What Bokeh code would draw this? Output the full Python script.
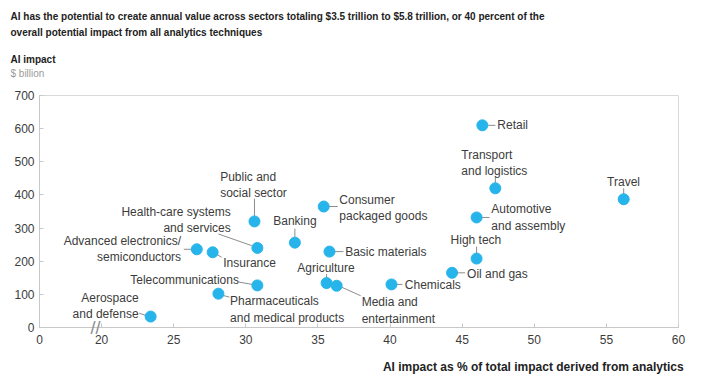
import numpy as np
from bokeh.plotting import figure
from bokeh.models import (ColumnDataSource, FixedTicker, Range1d, Title,
                          LinearAxis)
from bokeh.core.properties import value
from bokeh.embed import file_html
from bokeh.resources import INLINE

# ---------------- data ----------------
sectors = [
    "Retail", "Transport\nand logistics", "Travel", "Automotive\nand assembly",
    "High tech", "Oil and gas", "Chemicals", "Consumer\npackaged goods",
    "Banking", "Basic materials", "Agriculture", "Media and\nentertainment",
    "Public and\nsocial sector", "Health-care systems\nand services",
    "Advanced electronics/\nsemiconductors", "Insurance", "Telecommunications",
    "Pharmaceuticals\nand medical products", "Aerospace\nand defense",
]
ai_share_pct = [46.4, 47.3, 56.2, 46.0, 46.0, 44.3, 40.1, 35.4, 33.4, 35.8,
                35.6, 36.3, 30.6, 30.8, 26.6, 27.7, 30.8, 28.1, 23.4]
ai_impact_bn = [610, 420, 387, 332, 208, 165, 130, 365, 256, 229,
                134, 126, 320, 240, 236, 227, 127, 102, 33]

x_ticks = [20, 25, 30, 35, 40, 45, 50, 55, 60]
y_ticks = [0, 100, 200, 300, 400, 500, 600, 700]

title_lines = [
    "AI has the potential to create annual value across sectors totaling $3.5 trillion to $5.8 trillion, or 40 percent of the",
    "overall potential impact from all analytics techniques",
]
y_title = "AI impact"
y_unit = "$ billion"
x_title = "AI impact as % of total impact derived from analytics"

# ---------------- layout (pixel offsets of labels / leaders) ----------------
# (dx, dy, align, leader x0, y0, x1, y1) in screen pixels relative to each point
layout = [
    (15, 0, "left", 5, 0, 13, 0),
    (-34, -25.5, "left", 0, -5, 0, -12),
    (-16.6, -17.7, "left", 0, -5, 0, -11),
    (14.7, 0, "left", 5, 0, 13, 0),
    (-26, -19, "left", 0, -5, 0, -12),
    (15, 1, "left", 5, 0, 13, 0),
    (13.3, 1, "left", 5, 0, 11, 0),
    (15.6, 1.5, "left", 5, 0, 14, 0),
    (-21.6, -21.6, "left", 0, -5, 0, -14),
    (15.7, 0.7, "left", 5, 0, 14, 0),
    (-29.3, -15, "left", 0, -5, 0, -9),
    (25, 24.7, "left", 4, 1, 24, 10),
    (-34.3, -36.3, "left", 0, -4.5, 0, -22.7),
    (-26.6, -27.8, "right", -39, -14, -5.6, -2.3),
    (-15.7, -0.4, "right", -13, 0, -5, 0),
    (10.6, 11, "left", 4, 2, 9, 5),
    (-18.4, -5, "right", -18.4, -3.3, -5, -1),
    (11.7, 15.9, "left", 4.4, 1.7, 11, 3.4),
    (-12, -10.7, "right", -11.4, -3.3, -4, -1),
]

W, H = 710, 378
ML, MR, MT, MB = 39, 32, 95, 51
FW, FH = W - ML - MR, H - MT - MB
X0 = 20 - 62 / 14.4          # where the broken axis shows "0"
XBREAK = 20 - 6 / 14.4       # break mark position
XTITLE = 20 + 431 / 14.4     # centre of the x-axis title
xpp = (60 - X0) / FW
ypp = 700 / FH

lay = np.array([row[:2] + row[3:] for row in layout], dtype=float)
xs = np.array(ai_share_pct, dtype=float)
ys = np.array(ai_impact_bn, dtype=float)

src = ColumnDataSource(dict(
    x=xs, y=ys, label=sectors,
    dx=lay[:, 0], dy=lay[:, 1], align=[r[2] for r in layout],
    lx0=xs + lay[:, 2] * xpp, ly0=ys - lay[:, 3] * ypp,
    lx1=xs + lay[:, 4] * xpp, ly1=ys - lay[:, 5] * ypp,
))

p = figure(width=W, height=H, output_backend="svg", toolbar_location=None,
           x_range=Range1d(X0, 60), y_range=Range1d(0, 700),
           min_border_left=ML, min_border_right=MR, min_border_top=MT,
           min_border_bottom=MB)
p.background_fill_color = "white"
p.border_fill_color = "white"
p.outline_line_color = "#d9d9d9"
p.xgrid.visible = False
p.ygrid.visible = False

FONT = "Liberation Sans"
TXT = "#3c3c3c"

for ax in (p.xaxis[0], p.yaxis[0]):
    ax.axis_line_color = "#c8c8c8"
    ax.major_tick_line_color = "#c8c8c8"
    ax.major_tick_in = 4
    ax.major_tick_out = 0
    ax.minor_tick_line_color = None
    ax.major_label_text_font = FONT
    ax.major_label_text_font_size = "12px"
    ax.major_label_text_color = TXT
    ax.major_label_standoff = 5

p.xaxis[0].ticker = FixedTicker(ticks=[X0] + x_ticks)
p.xaxis[0].major_label_overrides = {X0: "0"}
p.xaxis[0].major_label_standoff = 7
p.yaxis[0].ticker = FixedTicker(ticks=y_ticks)


def label_axis(tick, text, standoff, size, color, style="normal"):
    return LinearAxis(ticker=FixedTicker(ticks=[tick]),
                      major_label_overrides={tick: text},
                      axis_line_color=None, major_tick_line_color=None,
                      minor_tick_line_color=None,
                      major_label_standoff=standoff,
                      major_label_text_font=FONT,
                      major_label_text_font_size=size,
                      major_label_text_font_style=style,
                      major_label_text_color=color)


# axis-break mark and x-axis title, drawn as extra line-less axes
p.add_layout(label_axis(XBREAK, "//", -35, "18px", "#8c8c8c"), "below")
p.add_layout(label_axis(XTITLE, x_title, 7, "12px", "#222222", "bold"),
             "below")

# leader lines
p.segment(x0="lx0", y0="ly0", x1="lx1", y1="ly1", source=src,
          line_color="#8c8c8c", line_width=1)
# points
p.scatter(x="x", y="y", source=src, size=11, fill_color="#27b4ea",
          line_color="#27b4ea")
# point labels
p.text(x="x", y="y", text="label", x_offset="dx", y_offset="dy",
       text_align="align", text_baseline="middle", source=src,
       text_font=value(FONT), text_font_size="12px", text_color=TXT,
       text_line_height=1.18)


# header texts, stacked outward from the frame (spacers are blank titles)
def head(text, standoff, style="bold", color="#222222"):
    p.add_layout(Title(text=text, align="left", offset=-29, standoff=standoff,
                       text_font=FONT, text_font_style=style,
                       text_font_size="10px", text_color=color), "above")


head(" ", 4)
head(y_unit, 0, "normal", "#9a9a9a")
head(y_title, 1)
head(" ", 1)
head(title_lines[1], 0)
head(title_lines[0], 5)

open("out.html", "w").write(file_html(p, INLINE))
